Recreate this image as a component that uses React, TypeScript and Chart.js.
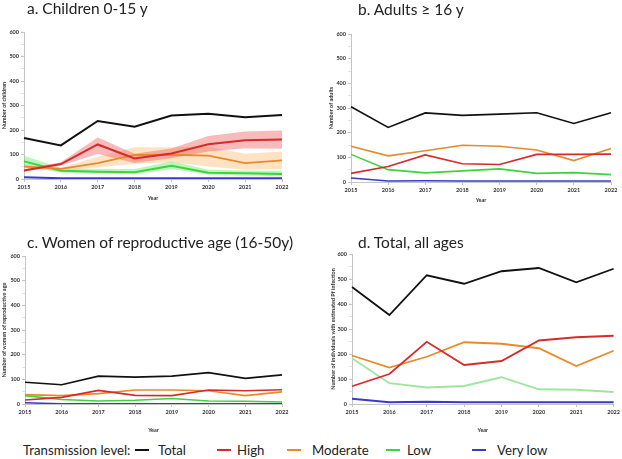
import React, { useEffect, useRef } from 'react';
import { Chart, registerables } from 'chart.js';
Chart.register(...registerables);

const years = ['2015', '2016', '2017', '2018', '2019', '2020', '2021', '2022'];

// a. Children 0-15 y
const aTotal = [167, 137, 237, 213, 259, 266, 252, 261];
const aHigh = [35, 61, 141, 84, 104, 142, 158, 161];
const aHighLo = [30, 55, 102, 65, 85, 112, 126, 123];
const aHighHi = [40, 68, 169, 103, 125, 176, 194, 198];
const aModerate = [51, 41, 65, 98, 99, 95, 65, 76];
const aModLo = [45, 35, 48, 62, 68, 51, 38, 40];
const aModHi = [57, 47, 90, 130, 130, 133, 103, 112];
const aLow = [72, 34, 30, 28, 54, 26, 23, 20];
const aLowLo = [51, 27, 22, 19, 41, 18, 15, 11];
const aLowHi = [95, 45, 41, 41, 72, 38, 35, 34];
const aVeryLow = [7, 3, 3, 3, 3, 3, 3, 3];

// b. Adults >= 16 y
const bTotal = [305, 221, 280, 270, 275, 281, 237, 281];
const bHigh = [35, 63, 110, 74, 71, 112, 112, 113];
const bModerate = [145, 106, 127, 149, 145, 130, 87, 136];
const bLow = [112, 50, 37, 45, 53, 35, 38, 30];
const bVeryLow = [16, 4, 5, 4, 4, 4, 4, 4];

// c. Women of reproductive age
const cTotal = [88, 78, 113, 109, 113, 127, 104, 118];
const cHigh = [16, 27, 55, 35, 34, 57, 54, 58];
const cModerate = [38, 34, 42, 57, 57, 54, 34, 49];
const cLow = [34, 18, 12, 15, 22, 12, 11, 8];
const cVeryLow = [5, 1, 1, 1, 1, 1, 1, 1];

// d. Total, all ages
const dTotal = [468, 356, 515, 481, 531, 544, 487, 541];
const dHigh = [71, 120, 249, 156, 172, 254, 267, 273];
const dModerate = [194, 146, 189, 247, 241, 223, 152, 213];
const dLow = [183, 83, 66, 72, 107, 59, 57, 48];
const dVeryLow = [21, 7, 9, 7, 7, 7, 7, 7];

const C_TOTAL = '#111111';
const C_HIGH = '#d42b2b';
const C_MOD = '#e8892c';
const C_LOW = '#3fd23f';
const C_LOW_LIGHT = '#9fe59f';
const C_VLOW = '#3a3ac4';

const AX_FONT = 'Lato, "Open Sans", sans-serif';

type PanelGeom = {
  left: number; top: number; width: number; height: number;
  padL: number; padR: number; padT: number; yW: number; xH: number;
  yTitle: string;
};

function line(data: number[], color: string, width = 1.8, order = 0) {
  return { data, borderColor: color, backgroundColor: color, borderWidth: width, pointRadius: 0, fill: false, order, tension: 0 };
}

function band(hi: number[], lo: number[], color: string) {
  return [
    { data: hi, borderColor: 'rgba(0,0,0,0)', borderWidth: 0, pointRadius: 0, backgroundColor: color, fill: '+1', order: 10 },
    { data: lo, borderColor: 'rgba(0,0,0,0)', borderWidth: 0, pointRadius: 0, backgroundColor: color, fill: false, order: 10 },
  ];
}

function makeOptions(g: PanelGeom) {
  const tickFont = { family: AX_FONT, size: 5.5, weight: 'bold' as const };
  const gridColor = (ctx: any) => (ctx.tick && ctx.tick.value % 100 !== 0 ? '#e2e2e2' : '#c4c4c4');
  return {
    responsive: false,
    animation: false as const,
    layout: { padding: { left: g.padL, right: g.padR, top: g.padT, bottom: 0 } },
    plugins: { legend: { display: false }, tooltip: { enabled: false }, title: { display: false } },
    scales: {
      x: {
        type: 'category' as const,
        offset: false,
        grid: { drawOnChartArea: false, drawTicks: true, tickLength: 3, color: '#c4c4c4' },
        border: { display: true, color: '#c4c4c4' },
        ticks: { font: tickFont, color: '#333', padding: 2, maxRotation: 0, minRotation: 0, autoSkip: false },
        title: { display: true, text: 'Year', font: tickFont, color: '#333', padding: 0 },
        afterFit: (s: any) => { s.height = g.xH; },
      },
      y: {
        min: 0, max: 600,
        grid: { drawOnChartArea: false, drawTicks: true, tickLength: 3, color: gridColor },
        border: { display: true, color: '#c4c4c4' },
        ticks: { stepSize: 50, font: tickFont, color: '#333', padding: 2, callback: (v: any) => (Number(v) % 100 === 0 ? String(v) : '') },
        title: { display: true, text: g.yTitle, font: tickFont, color: '#333', padding: 0 },
        afterFit: (s: any) => { s.width = g.yW; },
      },
    },
  };
}

function Panel({ g, datasets }: { g: PanelGeom; datasets: any[] }) {
  const ref = useRef<HTMLCanvasElement | null>(null);
  useEffect(() => {
    if (!ref.current) return;
    const chart = new Chart(ref.current, {
      type: 'line',
      data: { labels: years, datasets },
      options: makeOptions(g) as any,
    });
    return () => chart.destroy();
  }, []);
  return (
    <canvas
      ref={ref}
      width={g.width}
      height={g.height}
      style={{ position: 'absolute', left: g.left, top: g.top, width: g.width, height: g.height }}
    />
  );
}

const geomA: PanelGeom = { left: 0, top: 0, width: 311, height: 202, padL: 1, padR: 29, padT: 32, yW: 23, xH: 23, yTitle: 'Number of children' };
const geomB: PanelGeom = { left: 311, top: 0, width: 311, height: 204, padL: 17, padR: 11, padT: 34, yW: 23, xH: 22, yTitle: 'Number of adults' };
const geomC: PanelGeom = { left: 0, top: 210, width: 311, height: 224, padL: 1, padR: 29, padT: 46, yW: 24, xH: 30, yTitle: 'Number of women of reproductive age' };
const geomD: PanelGeom = { left: 311, top: 210, width: 311, height: 224, padL: 19, padR: 7, padT: 44, yW: 22, xH: 30, yTitle: 'Number of individuals with estimated Pf infection' };

const TITLE_FONT = 'Lato, "Open Sans", sans-serif';

function Title({ text, left, top }: { text: string; left: number; top: number }) {
  return (
    <div style={{ position: 'absolute', left, top, fontFamily: TITLE_FONT, fontSize: 15.5, lineHeight: '16px', color: '#222', whiteSpace: 'nowrap' }}>
      {text}
    </div>
  );
}

const legendItems = [
  { label: 'Total', color: C_TOTAL, lx: 135, tx: 158 },
  { label: 'High', color: C_HIGH, lx: 217, tx: 237 },
  { label: 'Moderate', color: C_MOD, lx: 287, tx: 312 },
  { label: 'Low', color: C_LOW, lx: 386, tx: 407 },
  { label: 'Very low', color: C_VLOW, lx: 472, tx: 497 },
];

export default function App() {
  const dsA = [
    line(aTotal, C_TOTAL, 2, 0),
    line(aHigh, C_HIGH, 2, 1),
    line(aModerate, C_MOD, 1.8, 2),
    line(aLow, C_LOW, 2, 3),
    line(aVeryLow, C_VLOW, 2, 4),
    ...band(aHighHi, aHighLo, 'rgba(238,90,90,0.42)'),
    ...band(aModHi, aModLo, 'rgba(250,185,115,0.42)'),
    ...band(aLowHi, aLowLo, 'rgba(90,235,90,0.42)'),
  ];
  const dsB = [
    line(bTotal, C_TOTAL, 1.6, 0),
    line(bHigh, C_HIGH, 1.6, 1),
    line(bModerate, C_MOD, 1.6, 2),
    line(bLow, C_LOW, 1.6, 3),
    line(bVeryLow, C_VLOW, 1.6, 4),
  ];
  const dsC = [
    line(cTotal, C_TOTAL, 1.6, 0),
    line(cHigh, C_HIGH, 1.6, 1),
    line(cModerate, C_MOD, 1.6, 2),
    line(cLow, C_LOW, 1.6, 3),
    line(cVeryLow, C_VLOW, 1.6, 4),
  ];
  const dsD = [
    line(dTotal, C_TOTAL, 1.8, 0),
    line(dHigh, C_HIGH, 1.8, 1),
    line(dModerate, C_MOD, 1.8, 2),
    line(dLow, C_LOW_LIGHT, 1.8, 3),
    line(dVeryLow, C_VLOW, 1.8, 4),
  ];
  return (
    <div style={{ position: 'absolute', left: 0, top: 0, width: 622, height: 459, background: '#fff', overflow: 'hidden' }}>
      <Panel g={geomA} datasets={dsA} />
      <Panel g={geomB} datasets={dsB} />
      <Panel g={geomC} datasets={dsC} />
      <Panel g={geomD} datasets={dsD} />
      <Title text="a. Children 0-15 y" left={27} top={0} />
      <Title text="b. Adults ≥ 16 y" left={358} top={1} />
      <Title text="c. Women of reproductive age (16-50y)" left={27} top={234} />
      <Title text="d. Total, all ages" left={358} top={234} />
      <div style={{ position: 'absolute', left: 0, top: 441, width: 622, height: 18, fontFamily: TITLE_FONT, fontSize: 13.2, color: '#222' }}>
        <span style={{ position: 'absolute', left: 23, top: 0, lineHeight: '18px', whiteSpace: 'nowrap' }}>Transmission level:</span>
        {legendItems.map((it) => (
          <React.Fragment key={it.label}>
            <span style={{ position: 'absolute', left: it.lx, top: 8, width: 14, height: 2, background: it.color }} />
            <span style={{ position: 'absolute', left: it.tx, top: 0, lineHeight: '18px', whiteSpace: 'nowrap' }}>{it.label}</span>
          </React.Fragment>
        ))}
      </div>
    </div>
  );
}
